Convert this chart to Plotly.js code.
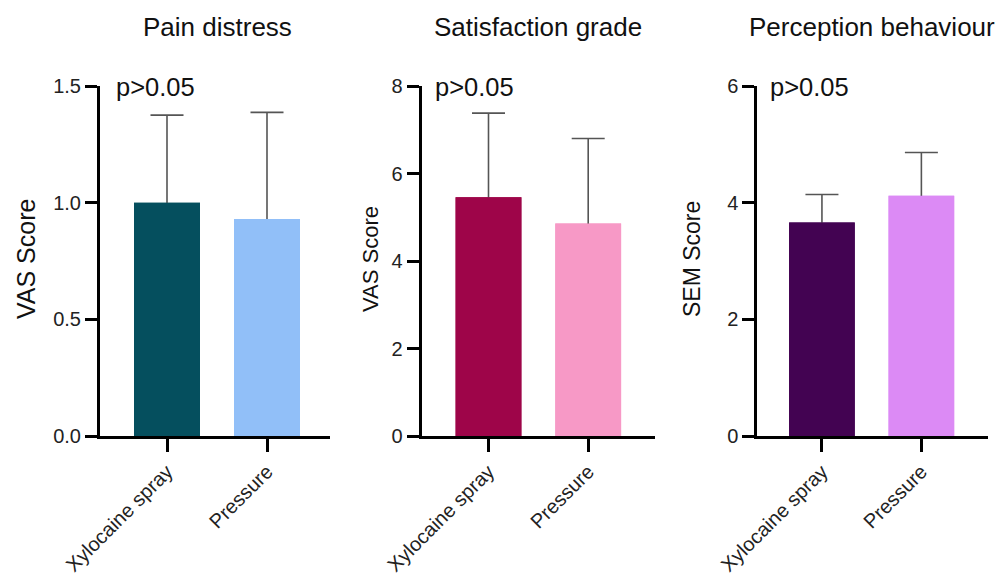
<!DOCTYPE html>
<html><head><meta charset="utf-8">
<script src="https://cdn.plot.ly/plotly-3.0.1.min.js"></script>
<style>html,body{margin:0;padding:0;background:#fff}#chart{width:1003px;height:579px}</style>
</head><body><div id="chart"></div>
<script>
const categories = ["Xylocaine spray", "Pressure"];
const panelTitles = ["Pain distress", "Satisfaction grade", "Perception behaviour"];
const yTitles = ["VAS Score", "VAS Score", "SEM Score"];
const painMean = [1.0, 0.93];
const painSD = [0.375, 0.457];
const satMean = [5.46, 4.86];
const satSD = [1.92, 1.94];
const percMean = [3.66, 4.12];
const percSD = [0.48, 0.74];
const pText = "p>0.05";

const W = 1003, H = 579;
const FONT = "'Liberation Sans', Arial, sans-serif";
const colors = [["#054f5e", "#91bff8"], ["#9e0549", "#f799c6"], ["#430352", "#dc8af5"]];
const means = [painMean, satMean, percMean];
const sds = [painSD, satSD, percSD];
const xPix = [[100, 330], [421.7, 655], [757.3, 988]];
const xRanges = [[-0.67, 1.63], [-0.67, 1.67], [-0.65, 1.67]];
const yRanges = [[0, 1.5], [0, 8], [0, 6]];
const yDtick = [0.5, 2, 2];
const yFmt = [".1f", "d", "d"];
const yTitleSize = [25, 22, 23];
const yTitleX = [26, 370, 692];
const titleX = [217, 538, 872];
const pX = [114, 433, 768];
const yTop = 86, yBot = 436;

const data = [];
const layout = {
  width: W, height: H, margin: {l: 0, r: 0, t: 0, b: 0},
  paper_bgcolor: "#fff", plot_bgcolor: "#fff", showlegend: false,
  font: {family: FONT, color: "#222"}, annotations: [], barmode: "overlay"
};
for (let i = 0; i < 3; i++) {
  const sfx = i === 0 ? "" : String(i + 1);
  // bars with error bars (lower half hidden under the overlay bars)
  data.push({
    type: "bar", x: categories, y: means[i],
    xaxis: "x" + sfx, yaxis: "y" + sfx, width: 0.66,
    marker: {color: colors[i], line: {width: 0}},
    error_y: {type: "data", array: sds[i], color: "#555", thickness: 1.6, width: 16.5},
    hoverinfo: "none"
  });
  data.push({
    type: "bar", x: categories, y: means[i],
    xaxis: "x" + sfx, yaxis: "y" + sfx, width: 0.66,
    marker: {color: colors[i], line: {width: 0}},
    hoverinfo: "none"
  });
  layout["xaxis" + sfx] = {
    domain: [xPix[i][0] / W, xPix[i][1] / W], anchor: "y" + sfx,
    range: xRanges[i], showgrid: false, zeroline: false,
    showline: true, linecolor: "#000", linewidth: 3,
    ticks: "outside", ticklen: 13, tickwidth: 3, tickcolor: "#000",
    tickangle: -45, tickfont: {size: 20, color: "#222", family: FONT},
    fixedrange: true
  };
  layout["yaxis" + sfx] = {
    domain: [(H - yBot) / H, (H - yTop) / H], anchor: "x" + sfx,
    range: yRanges[i], dtick: yDtick[i], tick0: 0, tickformat: yFmt[i],
    showgrid: false, zeroline: false,
    showline: true, linecolor: "#000", linewidth: 3,
    ticks: "outside", ticklen: 12, tickwidth: 3, tickcolor: "#000",
    tickfont: {size: 20, color: "#222", family: FONT},
    fixedrange: true
  };
  layout.annotations.push({
    xref: "paper", yref: "paper", x: titleX[i] / W, y: (H - 27) / H,
    xanchor: "center", yanchor: "middle", showarrow: false,
    text: panelTitles[i], font: {size: 26, color: "#111", family: FONT}
  });
  layout.annotations.push({
    xref: "paper", yref: "paper", x: pX[i] / W, y: (H - 87) / H,
    xanchor: "left", yanchor: "middle", showarrow: false,
    text: pText, font: {size: 25.5, color: "#111", family: FONT}
  });
  layout.annotations.push({
    xref: "paper", yref: "paper", x: yTitleX[i] / W, y: (H - 259) / H,
    xanchor: "center", yanchor: "middle", showarrow: false, textangle: -90,
    text: yTitles[i], font: {size: yTitleSize[i], color: "#111", family: FONT}
  });
}
Plotly.newPlot("chart", data, layout, {displayModeBar: false, staticPlot: true});
</script></body></html>
